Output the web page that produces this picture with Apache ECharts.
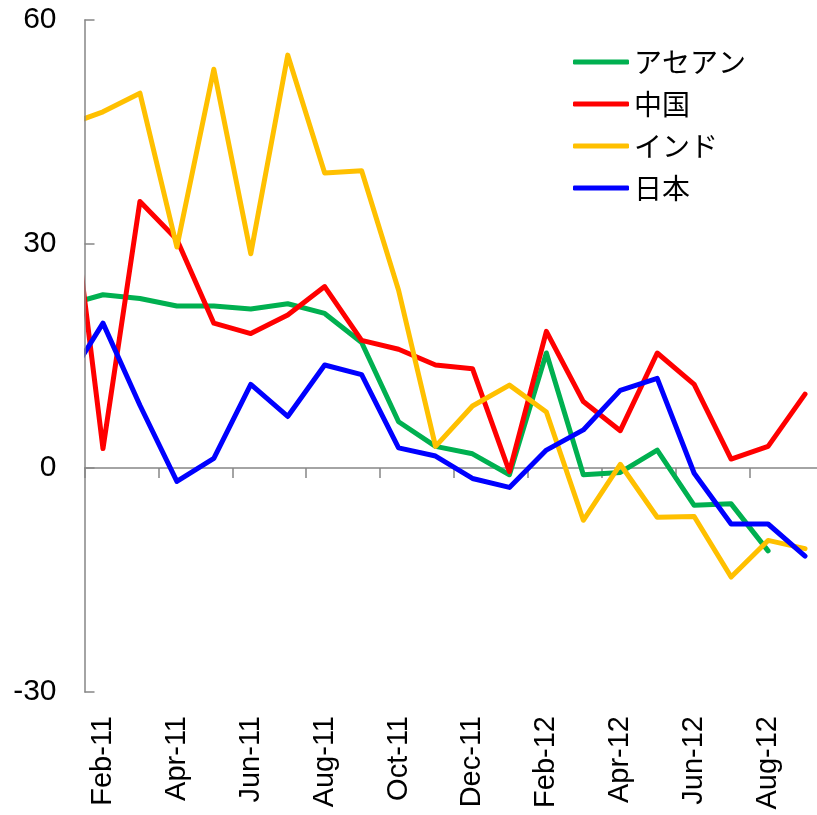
<!DOCTYPE html>
<html>
<head>
<meta charset="utf-8">
<script src="https://cdn.jsdelivr.net/npm/echarts@6/dist/echarts.min.js"></script>
<style>html,body{margin:0;padding:0;background:#fff;}#c{width:817px;height:815px;}</style>
</head>
<body>
<div id="c"></div>
<script>
// Months: Jan-11 .. Sep-12 (Jan-11 lies just left of the plot and is clipped)
var months = ['Jan-11','Feb-11','Mar-11','Apr-11','May-11','Jun-11','Jul-11','Aug-11','Sep-11','Oct-11','Nov-11','Dec-11',
              'Jan-12','Feb-12','Mar-12','Apr-12','May-12','Jun-12','Jul-12','Aug-12','Sep-12'];
var seriesNames = ['アセアン', '中国', 'インド', '日本'];
var asean = [21.8, 23.2, 22.7, 21.7, 21.7, 21.3, 22.0, 20.7, 16.8, 6.2, 2.9, 1.9, -0.9, 15.4, -0.9, -0.6, 2.4, -5.0, -4.8, -11.1, null];
var china = [42.8, 2.6, 35.7, 30.6, 19.4, 18.0, 20.5, 24.3, 17.1, 15.9, 13.8, 13.3, -0.5, 18.3, 8.9, 5.0, 15.4, 11.2, 1.2, 2.9, 9.9];
var india = [45.9, 47.7, 50.2, 29.6, 53.4, 28.7, 55.3, 39.5, 39.8, 23.8, 2.9, 8.3, 11.1, 7.5, -7.0, 0.5, -6.6, -6.5, -14.6, -9.7, -10.8];
var japan = [11.4, 19.4, 8.4, -1.8, 1.3, 11.2, 6.9, 13.8, 12.5, 2.7, 1.6, -1.4, -2.6, 2.4, 5.1, 10.4, 12.0, -0.7, -7.5, -7.5, -11.8];
var yTicks = [-30, 0, 30, 60];
var colors = ['#00B050', '#FF0000', '#FFC000', '#0000FF'];

function toXY(arr) {
  var out = [];
  for (var i = 0; i < arr.length; i++) {
    if (arr[i] !== null) out.push([i - 0.5, arr[i]]);
  }
  return out;
}

var chart = echarts.init(document.getElementById('c'), null, {renderer: 'canvas'});
var valuesList = [asean, china, india, japan];
var series = valuesList.map(function (vals, k) {
  return {
    name: seriesNames[k],
    type: 'line',
    xAxisIndex: 0,
    yAxisIndex: 0,
    data: toXY(vals),
    symbol: 'none',
    showSymbol: false,
    color: colors[k],
    lineStyle: {width: 5, color: colors[k], cap: 'round', join: 'round'},
    clip: true,
    z: 2 + k
  };
});

chart.setOption({
  animation: false,
  backgroundColor: '#ffffff',
  grid: {left: 84.5, top: 20, width: 739, height: 672, containLabel: false, outerBoundsMode: 'none'},
  legend: {
    orient: 'vertical',
    left: 573,
    top: 47,
    padding: 0,
    icon: 'roundRect',
    itemWidth: 56,
    itemHeight: 5,
    itemGap: 12,
    data: seriesNames,
    textStyle: {fontFamily: '"Noto Sans CJK JP", sans-serif', fontSize: 28, lineHeight: 30, color: '#000'}
  },
  // white mask just left of the y axis, so the clipped first segment ends exactly at the axis
  graphic: [{
    type: 'rect',
    z: 100,
    shape: {x: 70, y: 10, width: 14, height: 700},
    style: {fill: '#ffffff'},
    silent: true
  }],
  xAxis: [
    {
      type: 'value',
      min: 0, max: 20, interval: 2,
      axisLine: {show: true, onZero: true, lineStyle: {color: '#868686', width: 1.5}},
      axisTick: {show: true, inside: false, length: 10, lineStyle: {color: '#868686', width: 1.5}},
      axisLabel: {show: false},
      splitLine: {show: false}
    },
    {
      type: 'value',
      position: 'bottom',
      min: 0, max: 20, interval: 0.5,
      axisLine: {show: false, onZero: false},
      axisTick: {show: false},
      splitLine: {show: false},
      axisLabel: {
        show: true,
        rotate: 90,
        margin: 24,
        fontFamily: '"Liberation Sans", Arial, sans-serif',
        fontSize: 29,
        color: '#000',
        hideOverlap: false,
        showMinLabel: true,
        showMaxLabel: true,
        formatter: function (v) {
          var i = Math.round((v + 0.5) * 2) / 2;
          if (Math.abs(i - Math.round(i)) > 1e-6) return '';
          i = Math.round(i);
          if (i % 2 === 1 && i <= 19) return months[i];
          return '';
        }
      }
    }
  ],
  yAxis: {
    type: 'value',
    z: 200,
    min: yTicks[0], max: yTicks[yTicks.length - 1], interval: 30,
    axisLine: {show: true, lineStyle: {color: '#868686', width: 1.5}},
    axisTick: {show: true, inside: true, length: 10, lineStyle: {color: '#868686', width: 1.5}},
    axisLabel: {margin: 28, fontFamily: '"Liberation Sans", Arial, sans-serif', fontSize: 30, color: '#000'},
    splitLine: {show: false}
  },
  series: series
});
</script>
</body>
</html>
